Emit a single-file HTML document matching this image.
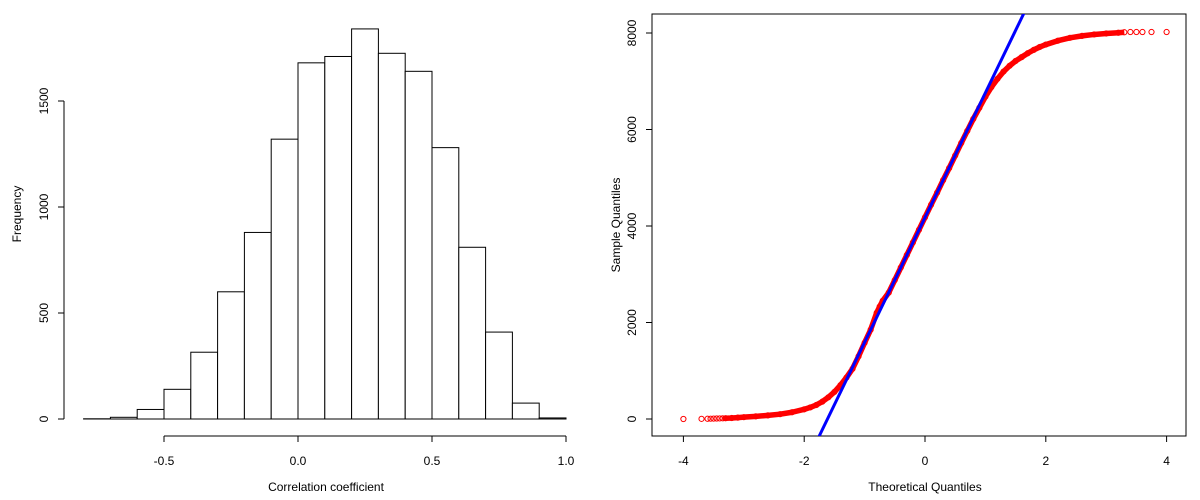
<!DOCTYPE html>
<html><head><meta charset="utf-8"><style>
body{margin:0;background:#fff}
svg{display:block;font-family:"Liberation Sans",sans-serif;font-size:12px}
</style></head><body>
<svg id="c" width="1200" height="500" viewBox="0 0 1200 500">
<g id="hist"></g>
<g id="qq"></g>
</svg>
<script>
const binStarts=[-0.8,-0.7,-0.6,-0.5,-0.4,-0.3,-0.2,-0.1,0,0.1,0.2,0.3,0.4,0.5,0.6,0.7,0.8,0.9];
const binCounts=[1,8,45,140,315,600,880,1320,1680,1710,1840,1725,1640,1280,810,410,75,5];
const histXTicks=[-0.5,0.0,0.5,1.0];
const histXLabels=["-0.5","0.0","0.5","1.0"];
const histYTicks=[0,500,1000,1500];
const theo=[-4,-3.7,-3.6,-3.55,-3.5,-3.45,-3.4,-3.35,-3.3,-3.2,-3.1,-3,-2.8,-2.6,-2.4,-2.2,-2,-1.9,-1.8,-1.7,-1.6,-1.5,-1.4,-1.3,-1.2,-1.1,-1,-0.9,-0.8,-0.75,-0.7,-0.6,-0.5,-0.4,-0.3,-0.2,-0.1,0,0.1,0.2,0.3,0.4,0.5,0.6,0.7,0.8,0.9,1,1.1,1.2,1.3,1.4,1.5,1.6,1.7,1.8,1.9,2,2.2,2.4,2.6,2.8,3,3.2,3.3,3.4,3.5,3.6,3.75,4];
const samp=[0,3,5,6,8,10,12,14,16,20,28,38,55,75,100,140,200,240,290,360,450,560,700,860,1040,1300,1580,1850,2200,2330,2450,2620,2880,3140,3400,3660,3920,4180,4440,4690,4950,5200,5460,5720,5970,6220,6450,6680,6880,7050,7200,7320,7420,7500,7580,7650,7710,7760,7840,7900,7940,7970,7990,8005,8015,8020,8020,8020,8020,8020];
const lineSlope=2586, lineIntercept=4175;
const qqXTicks=[-4,-2,0,2,4];
const qqYTicks=[0,2000,4000,6000,8000];

const NS="http://www.w3.org/2000/svg";
function mk(p,t,a,txt){const e=document.createElementNS(NS,t);for(const k in a)e.setAttribute(k,a[k]);if(txt!=null)e.textContent=txt;p.appendChild(e);return e;}

// Histogram
const H=document.getElementById('hist');
const hx=v=>298+(v-0)*268, hy=v=>419-v*106/500;
binStarts.forEach((b,i)=>{
 const r=mk(H,'rect',{x:hx(b),y:hy(binCounts[i]),width:hx(b+0.1)-hx(b),height:419-hy(binCounts[i]),fill:'#fff',stroke:'#000','stroke-width':1});
 
 
});
let a=mk(H,'line',{x1:hx(-0.5),x2:hx(1.0),y1:436,y2:436,stroke:'#000'});

histXTicks.forEach((t,i)=>{mk(H,'line',{x1:hx(t),x2:hx(t),y1:436,y2:442,stroke:'#000'});
 const l=mk(H,'text',{x:hx(t),y:465,'text-anchor':'middle'},histXLabels[i]);
 });
a=mk(H,'line',{x1:64,x2:64,y1:hy(0),y2:hy(1500),stroke:'#000'});

histYTicks.forEach(t=>{mk(H,'line',{x1:58,x2:64,y1:hy(t),y2:hy(t),stroke:'#000'});
 const l=mk(H,'text',{x:48,y:hy(t),'text-anchor':'middle',transform:`rotate(-90 48 ${hy(t)})`},String(t));
 });
let t=mk(H,'text',{x:326,y:491,'text-anchor':'middle'},'Correlation coefficient');

t=mk(H,'text',{x:21,y:214,'text-anchor':'middle',transform:'rotate(-90 21 214)'},'Frequency');


// QQ
const Q=document.getElementById('qq');
const qx=v=>925+v*60.4, qy=v=>419-v*0.04825;
const box=mk(Q,'rect',{x:652,y:14,width:534,height:422,fill:'none',stroke:'#000'});

const defs=mk(Q,'clipPath',{id:'cp'});mk(defs,'rect',{x:652,y:14,width:534,height:422});
const g=mk(Q,'g',{'clip-path':'url(#cp)'});
let pts=[];theo.forEach((x,i)=>{if(x>=-3.35&&x<=3.3)pts.push(qx(x)+','+qy(samp[i]));});
const band=mk(g,'polyline',{points:pts.join(' '),fill:'none',stroke:'#f00','stroke-width':5.5,'stroke-linejoin':'round'});

theo.forEach((x,i)=>{const c=mk(g,'circle',{cx:qx(x),cy:qy(samp[i]),r:2.6,fill:'none',stroke:'#f00','stroke-width':1});
 });
const ln=mk(g,'line',{x1:qx(-2),y1:qy(lineIntercept-2*lineSlope),x2:qx(2),y2:qy(lineIntercept+2*lineSlope),stroke:'#00f','stroke-width':3});

qqXTicks.forEach(v=>{mk(Q,'line',{x1:qx(v),x2:qx(v),y1:436,y2:442,stroke:'#000'});
 const l=mk(Q,'text',{x:qx(v),y:465,'text-anchor':'middle'},String(v));
 });
qqYTicks.forEach(v=>{mk(Q,'line',{x1:646,x2:652,y1:qy(v),y2:qy(v),stroke:'#000'});
 const l=mk(Q,'text',{x:636,y:qy(v),'text-anchor':'middle',transform:`rotate(-90 636 ${qy(v)})`},String(v));
 });
t=mk(Q,'text',{x:925,y:491,'text-anchor':'middle'},'Theoretical Quantiles');

t=mk(Q,'text',{x:620,y:225,'text-anchor':'middle',transform:'rotate(-90 620 225)'},'Sample Quantiles');

</script>
</body></html>
